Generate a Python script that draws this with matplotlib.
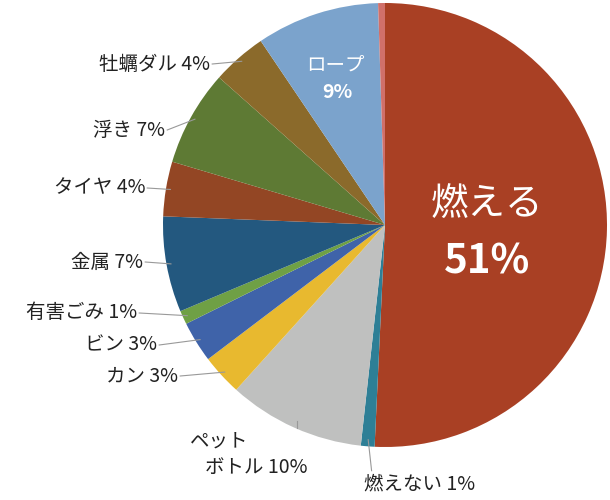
import numpy as np
import matplotlib.pyplot as plt

plt.rcParams['font.family'] = ['Noto Sans CJK JP', 'DejaVu Sans']

labels = ['燃える', '燃えない', 'ペットボトル', 'カン', 'ビン', '有害ごみ', '金属', 'タイヤ', '浮き', '牡蠣ダル', 'ロープ', '']
values = [51, 1, 10, 3, 3, 1, 7, 4, 7, 4, 9, 0.5]
texts = ['', '燃えない 1%', 'ペット\nボトル 10%', 'カン 3%', 'ビン 3%', '有害ごみ 1%', '金属 7%',
         'タイヤ 4%', '浮き 7%', '牡蠣ダル 4%', '', '']
colors = ['#A94024', '#2E7F96', '#BFC0BF', '#E8B92F', '#3F63A9', '#6FA045', '#23587F',
          '#934624', '#5E7A34', '#8B6A2B', '#7BA3CC', '#D0706A']

# text anchor positions (pixels in the 610x500 image)
text_px = [None, (420, 484), (290, 428), (178, 376), (157, 345), (137, 313), (143, 262),
           (145, 188), (165, 130), (210, 64), None, None]

fig = plt.figure(figsize=(6.1, 5), dpi=100)
cx, cy, r = 385, 225, 222
ax = fig.add_axes([(cx - r) / 610, (500 - cy - r) / 500, 2 * r / 610, 2 * r / 500])
wedges, _ = ax.pie(values, colors=colors, startangle=90, counterclock=False, radius=1,
                   wedgeprops=dict(linewidth=0))
ax.set_xlim(-1, 1)
ax.set_ylim(-1, 1)
ax.set_aspect('equal')
ax.axis('off')

def to_data(px, py):
    return (px - cx) / r, (cy - py) / r

fs = 14
for w, t, p in zip(wedges, texts, text_px):
    if not t:
        continue
    ang = np.deg2rad((w.theta1 + w.theta2) / 2)
    ex, ey = np.cos(ang), np.sin(ang)
    tx, ty = to_data(*p)
    if t.startswith('ペット'):
        ax.plot([ex * 0.97, ex * 0.97], [ey * 0.97, ty], color='#999999', lw=0.8, clip_on=False)
        first, second = t.split('\n')
        ax.text(*to_data(190, 441), first, ha='left', va='center', fontsize=fs, color='#222222')
        ax.text(*to_data(205, 467), second, ha='left', va='center', fontsize=fs, color='#222222')
    elif t.startswith('燃えない'):
        ax.plot([ex * 0.97, ex * 1.03 + 0.02], [ey * 0.97, ty + 0.06], color='#999999', lw=0.8, clip_on=False)
        ax.text(tx, ty, t, ha='center', va='center', fontsize=fs, color='#222222')
    else:
        ax.plot([tx + 0.01, ex * 0.98], [ty, ey * 0.98], color='#999999', lw=0.8, clip_on=False)
        ax.text(tx, ty, t, ha='right', va='center', fontsize=fs, color='#222222')

ax.text(*to_data(487, 205), '燃える', ha='center', va='center', fontsize=27, color='white')
ax.text(*to_data(487, 262), '51%', ha='center', va='center', fontsize=29, color='white', fontweight='bold')
ax.text(*to_data(335, 65), 'ロープ', ha='center', va='center', fontsize=14, color='white')
ax.text(*to_data(337, 93), '9%', ha='center', va='center', fontsize=14, color='white', fontweight='bold')

fig.savefig('out.png', dpi=100)
